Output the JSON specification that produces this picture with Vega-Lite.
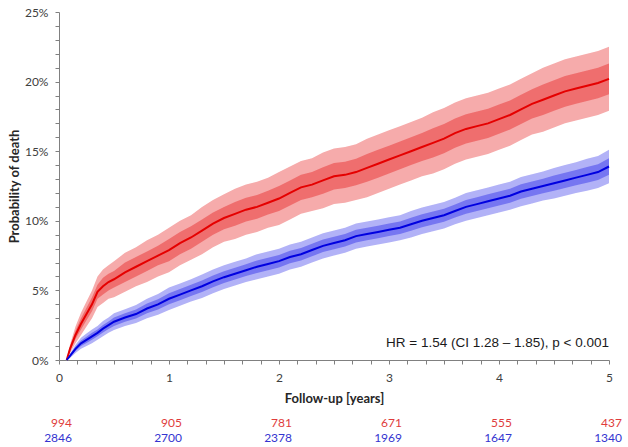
{
  "$schema": "https://vega.github.io/schema/vega-lite/v6.json",
  "padding": {"left": 8, "top": 6, "right": 5, "bottom": 2},
  "background": "white",
  "spacing": 10,
  "config": {"view": {"stroke": null}, "font": "Lato"},
  "datasets": {
    "km": [
      {"g":"r","t":0.07,"p":0,"lo":0,"hi":0,"lo2":0,"hi2":0},
      {"g":"r","t":0.1,"p":0.8,"lo":0.5,"hi":1.1,"lo2":0.65,"hi2":0.95},
      {"g":"r","t":0.15,"p":1.8,"lo":1.2,"hi":2.4,"lo2":1.5,"hi2":2.1},
      {"g":"r","t":0.2,"p":2.6,"lo":1.8,"hi":3.4,"lo2":2.2,"hi2":3.0},
      {"g":"r","t":0.25,"p":3.3,"lo":2.4,"hi":4.2,"lo2":2.85,"hi2":3.75},
      {"g":"r","t":0.3,"p":4.0,"lo":3.0,"hi":5.0,"lo2":3.5,"hi2":4.5},
      {"g":"r","t":0.35,"p":4.9,"lo":3.8,"hi":6.0,"lo2":4.4,"hi2":5.4},
      {"g":"r","t":0.4,"p":5.3,"lo":4.1,"hi":6.5,"lo2":4.7,"hi2":5.9},
      {"g":"r","t":0.45,"p":5.6,"lo":4.4,"hi":6.8,"lo2":5.0,"hi2":6.2},
      {"g":"r","t":0.5,"p":5.8,"lo":4.5,"hi":7.1,"lo2":5.2,"hi2":6.4},
      {"g":"r","t":0.6,"p":6.3,"lo":4.9,"hi":7.7,"lo2":5.6,"hi2":7.0},
      {"g":"r","t":0.7,"p":6.7,"lo":5.3,"hi":8.1,"lo2":6.0,"hi2":7.4},
      {"g":"r","t":0.8,"p":7.1,"lo":5.6,"hi":8.6,"lo2":6.4,"hi2":7.8},
      {"g":"r","t":0.9,"p":7.5,"lo":6.0,"hi":9.0,"lo2":6.8,"hi2":8.2},
      {"g":"r","t":1.0,"p":7.9,"lo":6.3,"hi":9.5,"lo2":7.1,"hi2":8.7},
      {"g":"r","t":1.1,"p":8.4,"lo":6.8,"hi":10.0,"lo2":7.6,"hi2":9.2},
      {"g":"r","t":1.2,"p":8.8,"lo":7.2,"hi":10.4,"lo2":8.0,"hi2":9.6},
      {"g":"r","t":1.3,"p":9.3,"lo":7.6,"hi":11.0,"lo2":8.5,"hi2":10.1},
      {"g":"r","t":1.4,"p":9.8,"lo":8.1,"hi":11.5,"lo2":9.0,"hi2":10.6},
      {"g":"r","t":1.5,"p":10.2,"lo":8.5,"hi":11.9,"lo2":9.4,"hi2":11.0},
      {"g":"r","t":1.6,"p":10.5,"lo":8.7,"hi":12.3,"lo2":9.65,"hi2":11.35},
      {"g":"r","t":1.7,"p":10.8,"lo":9.0,"hi":12.6,"lo2":9.95,"hi2":11.65},
      {"g":"r","t":1.8,"p":11.0,"lo":9.2,"hi":12.8,"lo2":10.15,"hi2":11.85},
      {"g":"r","t":1.9,"p":11.3,"lo":9.5,"hi":13.1,"lo2":10.45,"hi2":12.15},
      {"g":"r","t":2.0,"p":11.6,"lo":9.7,"hi":13.5,"lo2":10.7,"hi2":12.5},
      {"g":"r","t":2.1,"p":12.0,"lo":10.1,"hi":13.9,"lo2":11.1,"hi2":12.9},
      {"g":"r","t":2.2,"p":12.4,"lo":10.5,"hi":14.3,"lo2":11.5,"hi2":13.3},
      {"g":"r","t":2.3,"p":12.6,"lo":10.7,"hi":14.5,"lo2":11.7,"hi2":13.5},
      {"g":"r","t":2.4,"p":12.9,"lo":10.9,"hi":14.9,"lo2":11.95,"hi2":13.85},
      {"g":"r","t":2.5,"p":13.2,"lo":11.2,"hi":15.2,"lo2":12.25,"hi2":14.15},
      {"g":"r","t":2.6,"p":13.3,"lo":11.3,"hi":15.3,"lo2":12.35,"hi2":14.25},
      {"g":"r","t":2.7,"p":13.5,"lo":11.5,"hi":15.5,"lo2":12.55,"hi2":14.45},
      {"g":"r","t":2.8,"p":13.8,"lo":11.7,"hi":15.9,"lo2":12.8,"hi2":14.8},
      {"g":"r","t":2.9,"p":14.1,"lo":12.0,"hi":16.2,"lo2":13.1,"hi2":15.1},
      {"g":"r","t":3.0,"p":14.4,"lo":12.3,"hi":16.5,"lo2":13.4,"hi2":15.4},
      {"g":"r","t":3.1,"p":14.7,"lo":12.6,"hi":16.8,"lo2":13.7,"hi2":15.7},
      {"g":"r","t":3.2,"p":15.0,"lo":12.9,"hi":17.1,"lo2":14.0,"hi2":16.0},
      {"g":"r","t":3.3,"p":15.3,"lo":13.2,"hi":17.4,"lo2":14.3,"hi2":16.3},
      {"g":"r","t":3.4,"p":15.6,"lo":13.4,"hi":17.8,"lo2":14.55,"hi2":16.65},
      {"g":"r","t":3.5,"p":15.9,"lo":13.7,"hi":18.1,"lo2":14.85,"hi2":16.95},
      {"g":"r","t":3.6,"p":16.3,"lo":14.1,"hi":18.5,"lo2":15.25,"hi2":17.35},
      {"g":"r","t":3.7,"p":16.6,"lo":14.4,"hi":18.8,"lo2":15.55,"hi2":17.65},
      {"g":"r","t":3.8,"p":16.8,"lo":14.6,"hi":19.0,"lo2":15.75,"hi2":17.85},
      {"g":"r","t":3.9,"p":17.0,"lo":14.8,"hi":19.2,"lo2":15.95,"hi2":18.05},
      {"g":"r","t":4.0,"p":17.3,"lo":15.1,"hi":19.5,"lo2":16.25,"hi2":18.35},
      {"g":"r","t":4.1,"p":17.6,"lo":15.4,"hi":19.8,"lo2":16.55,"hi2":18.65},
      {"g":"r","t":4.2,"p":18.0,"lo":15.8,"hi":20.2,"lo2":16.95,"hi2":19.05},
      {"g":"r","t":4.3,"p":18.4,"lo":16.2,"hi":20.6,"lo2":17.35,"hi2":19.45},
      {"g":"r","t":4.4,"p":18.7,"lo":16.4,"hi":21.0,"lo2":17.6,"hi2":19.8},
      {"g":"r","t":4.5,"p":19.0,"lo":16.7,"hi":21.3,"lo2":17.9,"hi2":20.1},
      {"g":"r","t":4.6,"p":19.3,"lo":17.0,"hi":21.6,"lo2":18.2,"hi2":20.4},
      {"g":"r","t":4.7,"p":19.5,"lo":17.2,"hi":21.8,"lo2":18.4,"hi2":20.6},
      {"g":"r","t":4.8,"p":19.7,"lo":17.4,"hi":22.0,"lo2":18.6,"hi2":20.8},
      {"g":"r","t":4.9,"p":19.9,"lo":17.6,"hi":22.2,"lo2":18.8,"hi2":21.0},
      {"g":"r","t":5.0,"p":20.2,"lo":17.9,"hi":22.5,"lo2":19.1,"hi2":21.3},
      {"g":"b","t":0.07,"p":0,"lo":0,"hi":0,"lo2":0,"hi2":0},
      {"g":"b","t":0.1,"p":0.3,"lo":0.15,"hi":0.45,"lo2":0.22,"hi2":0.38},
      {"g":"b","t":0.15,"p":0.8,"lo":0.5,"hi":1.1,"lo2":0.65,"hi2":0.95},
      {"g":"b","t":0.2,"p":1.2,"lo":0.8,"hi":1.6,"lo2":1.0,"hi2":1.4},
      {"g":"b","t":0.25,"p":1.45,"lo":1.0,"hi":1.9,"lo2":1.23,"hi2":1.67},
      {"g":"b","t":0.3,"p":1.7,"lo":1.2,"hi":2.2,"lo2":1.45,"hi2":1.95},
      {"g":"b","t":0.35,"p":1.95,"lo":1.45,"hi":2.45,"lo2":1.7,"hi2":2.2},
      {"g":"b","t":0.4,"p":2.25,"lo":1.7,"hi":2.8,"lo2":1.98,"hi2":2.52},
      {"g":"b","t":0.45,"p":2.5,"lo":1.95,"hi":3.05,"lo2":2.23,"hi2":2.77},
      {"g":"b","t":0.5,"p":2.75,"lo":2.15,"hi":3.35,"lo2":2.45,"hi2":3.05},
      {"g":"b","t":0.6,"p":3.05,"lo":2.45,"hi":3.65,"lo2":2.75,"hi2":3.35},
      {"g":"b","t":0.7,"p":3.3,"lo":2.65,"hi":3.95,"lo2":2.98,"hi2":3.62},
      {"g":"b","t":0.8,"p":3.7,"lo":3.0,"hi":4.4,"lo2":3.35,"hi2":4.05},
      {"g":"b","t":0.9,"p":4.0,"lo":3.25,"hi":4.75,"lo2":3.63,"hi2":4.37},
      {"g":"b","t":1.0,"p":4.4,"lo":3.6,"hi":5.2,"lo2":4.0,"hi2":4.8},
      {"g":"b","t":1.1,"p":4.7,"lo":3.9,"hi":5.5,"lo2":4.3,"hi2":5.1},
      {"g":"b","t":1.2,"p":5.0,"lo":4.2,"hi":5.8,"lo2":4.6,"hi2":5.4},
      {"g":"b","t":1.3,"p":5.3,"lo":4.45,"hi":6.15,"lo2":4.88,"hi2":5.72},
      {"g":"b","t":1.4,"p":5.65,"lo":4.8,"hi":6.5,"lo2":5.23,"hi2":6.07},
      {"g":"b","t":1.5,"p":5.95,"lo":5.1,"hi":6.8,"lo2":5.53,"hi2":6.37},
      {"g":"b","t":1.6,"p":6.2,"lo":5.35,"hi":7.05,"lo2":5.78,"hi2":6.62},
      {"g":"b","t":1.7,"p":6.45,"lo":5.6,"hi":7.3,"lo2":6.03,"hi2":6.87},
      {"g":"b","t":1.8,"p":6.7,"lo":5.8,"hi":7.6,"lo2":6.25,"hi2":7.15},
      {"g":"b","t":1.9,"p":6.9,"lo":6.0,"hi":7.8,"lo2":6.45,"hi2":7.35},
      {"g":"b","t":2.0,"p":7.1,"lo":6.2,"hi":8.0,"lo2":6.65,"hi2":7.55},
      {"g":"b","t":2.1,"p":7.4,"lo":6.5,"hi":8.3,"lo2":6.95,"hi2":7.85},
      {"g":"b","t":2.2,"p":7.6,"lo":6.7,"hi":8.5,"lo2":7.15,"hi2":8.05},
      {"g":"b","t":2.3,"p":7.9,"lo":7.0,"hi":8.8,"lo2":7.45,"hi2":8.35},
      {"g":"b","t":2.4,"p":8.2,"lo":7.3,"hi":9.1,"lo2":7.75,"hi2":8.65},
      {"g":"b","t":2.5,"p":8.4,"lo":7.5,"hi":9.3,"lo2":7.95,"hi2":8.85},
      {"g":"b","t":2.6,"p":8.6,"lo":7.7,"hi":9.5,"lo2":8.15,"hi2":9.05},
      {"g":"b","t":2.7,"p":8.9,"lo":8.0,"hi":9.8,"lo2":8.45,"hi2":9.35},
      {"g":"b","t":2.8,"p":9.05,"lo":8.15,"hi":9.95,"lo2":8.6,"hi2":9.5},
      {"g":"b","t":2.9,"p":9.2,"lo":8.3,"hi":10.1,"lo2":8.75,"hi2":9.65},
      {"g":"b","t":3.0,"p":9.35,"lo":8.45,"hi":10.25,"lo2":8.9,"hi2":9.8},
      {"g":"b","t":3.1,"p":9.5,"lo":8.6,"hi":10.4,"lo2":9.05,"hi2":9.95},
      {"g":"b","t":3.2,"p":9.75,"lo":8.8,"hi":10.7,"lo2":9.28,"hi2":10.22},
      {"g":"b","t":3.3,"p":10.0,"lo":9.05,"hi":10.95,"lo2":9.53,"hi2":10.47},
      {"g":"b","t":3.4,"p":10.2,"lo":9.25,"hi":11.15,"lo2":9.73,"hi2":10.67},
      {"g":"b","t":3.5,"p":10.4,"lo":9.45,"hi":11.35,"lo2":9.93,"hi2":10.87},
      {"g":"b","t":3.6,"p":10.7,"lo":9.75,"hi":11.65,"lo2":10.23,"hi2":11.17},
      {"g":"b","t":3.7,"p":11.0,"lo":10.0,"hi":12.0,"lo2":10.5,"hi2":11.5},
      {"g":"b","t":3.8,"p":11.2,"lo":10.2,"hi":12.2,"lo2":10.7,"hi2":11.7},
      {"g":"b","t":3.9,"p":11.4,"lo":10.4,"hi":12.4,"lo2":10.9,"hi2":11.9},
      {"g":"b","t":4.0,"p":11.6,"lo":10.6,"hi":12.6,"lo2":11.1,"hi2":12.1},
      {"g":"b","t":4.1,"p":11.8,"lo":10.8,"hi":12.8,"lo2":11.3,"hi2":12.3},
      {"g":"b","t":4.2,"p":12.1,"lo":11.05,"hi":13.15,"lo2":11.58,"hi2":12.62},
      {"g":"b","t":4.3,"p":12.3,"lo":11.25,"hi":13.35,"lo2":11.78,"hi2":12.82},
      {"g":"b","t":4.4,"p":12.5,"lo":11.45,"hi":13.55,"lo2":11.98,"hi2":13.02},
      {"g":"b","t":4.5,"p":12.7,"lo":11.6,"hi":13.8,"lo2":12.15,"hi2":13.25},
      {"g":"b","t":4.6,"p":12.9,"lo":11.8,"hi":14.0,"lo2":12.35,"hi2":13.45},
      {"g":"b","t":4.7,"p":13.1,"lo":12.0,"hi":14.2,"lo2":12.55,"hi2":13.65},
      {"g":"b","t":4.8,"p":13.3,"lo":12.15,"hi":14.45,"lo2":12.73,"hi2":13.87},
      {"g":"b","t":4.9,"p":13.5,"lo":12.35,"hi":14.65,"lo2":12.93,"hi2":14.07},
      {"g":"b","t":5.0,"p":13.9,"lo":12.7,"hi":15.1,"lo2":13.3,"hi2":14.5}
    ],
    "note": [
      {"t": 5, "p": 1.25, "label": "HR = 1.54 (CI 1.28 – 1.85), p < 0.001"}
    ],
    "risk": [
      {"g":"r","t":0,"n":"994"},{"g":"r","t":1,"n":"905"},{"g":"r","t":2,"n":"781"},
      {"g":"r","t":3,"n":"671"},{"g":"r","t":4,"n":"555"},{"g":"r","t":5,"n":"437"},
      {"g":"b","t":0,"n":"2846"},{"g":"b","t":1,"n":"2700"},{"g":"b","t":2,"n":"2378"},
      {"g":"b","t":3,"n":"1969"},{"g":"b","t":4,"n":"1647"},{"g":"b","t":5,"n":"1340"}
    ]
  },
  "vconcat": [
    {
      "width": 550,
      "height": 348,
      "data": {"name": "km"},
      "layer": [
        {
          "transform": [{"filter": "datum.g == 'r'"}],
          "mark": {"type": "area", "interpolate": "linear", "color": "#f6abab", "opacity": 1},
          "encoding": {
            "x": {
              "field": "t", "type": "quantitative",
              "scale": {"domain": [0, 5], "nice": false, "zero": false},
              "axis": {
                "title": "Follow-up [years]",
                "values": [0,0.166667,0.333333,0.5,0.666667,0.833333,1,1.166667,1.333333,1.5,1.666667,1.833333,2,2.166667,2.333333,2.5,2.666667,2.833333,3,3.166667,3.333333,3.5,3.666667,3.833333,4,4.166667,4.333333,4.5,4.666667,4.833333,5],
                "tickCount": 100,
                "labelExpr": "abs(datum.value - round(datum.value)) < 0.001 ? '' + round(datum.value) : ''",
                "labelOverlap": false,
                "labelFlush": false,
                "labelPadding": 8,
                "titlePadding": 9,
                "grid": false,
                "domain": true,
                "ticks": true,
                "domainColor": "#808080",
                "domainWidth": 1,
                "tickColor": "#808080",
                "tickWidth": 1,
                "tickSize": 4,
                "labelFont": "Lato",
                "labelFontSize": 12,
                "labelColor": "#404040",
                "titleFont": "Lato",
                "titleFontSize": 13,
                "titleFontWeight": "bold",
                "titleColor": "#262626"
              }
            },
            "y": {
              "field": "lo", "type": "quantitative",
              "scale": {"domain": [0, 25], "nice": false},
              "axis": {
                "title": "Probability of death",
                "values": [0,1,2,3,4,5,6,7,8,9,10,11,12,13,14,15,16,17,18,19,20,21,22,23,24,25],
                "tickCount": 100,
                "labelExpr": "datum.value % 5 == 0 ? datum.value + '%' : ''",
                "labelOverlap": false,
                "labelPadding": 7,
                "titlePadding": 3,
                "grid": false,
                "domain": true,
                "ticks": true,
                "domainColor": "#808080",
                "domainWidth": 1,
                "tickColor": "#808080",
                "tickWidth": 1,
                "tickSize": 4,
                "labelFont": "Lato",
                "labelFontSize": 12,
                "labelColor": "#404040",
                "titleFont": "Lato",
                "titleFontSize": 13,
                "titleFontWeight": "bold",
                "titleColor": "#262626"
              }
            },
            "y2": {"field": "hi"}
          }
        },
        {
          "transform": [{"filter": "datum.g == 'r'"}],
          "mark": {"type": "area", "interpolate": "linear", "color": "#ef6e6e", "opacity": 1},
          "encoding": {"x": {"field": "t", "type": "quantitative"}, "y": {"field": "lo2", "type": "quantitative"}, "y2": {"field": "hi2"}}
        },
        {
          "transform": [{"filter": "datum.g == 'r'"}],
          "mark": {"type": "line", "interpolate": "linear", "color": "#e50000", "strokeWidth": 2},
          "encoding": {"x": {"field": "t", "type": "quantitative"}, "y": {"field": "p", "type": "quantitative"}}
        },
        {
          "transform": [{"filter": "datum.g == 'b'"}],
          "mark": {"type": "area", "interpolate": "linear", "color": "#b2b2f7", "opacity": 1},
          "encoding": {"x": {"field": "t", "type": "quantitative"}, "y": {"field": "lo", "type": "quantitative"}, "y2": {"field": "hi"}}
        },
        {
          "transform": [{"filter": "datum.g == 'b'"}],
          "mark": {"type": "area", "interpolate": "linear", "color": "#7676f1", "opacity": 1},
          "encoding": {"x": {"field": "t", "type": "quantitative"}, "y": {"field": "lo2", "type": "quantitative"}, "y2": {"field": "hi2"}}
        },
        {
          "transform": [{"filter": "datum.g == 'b'"}],
          "mark": {"type": "line", "interpolate": "linear", "color": "#0000e0", "strokeWidth": 2},
          "encoding": {"x": {"field": "t", "type": "quantitative"}, "y": {"field": "p", "type": "quantitative"}}
        },
        {
          "data": {"name": "note"},
          "mark": {"type": "text", "align": "right", "baseline": "middle", "font": "Liberation Sans", "fontSize": 13.5, "color": "#1a1a1a"},
          "encoding": {
            "x": {"field": "t", "type": "quantitative"},
            "y": {"field": "p", "type": "quantitative"},
            "text": {"field": "label"}
          }
        }
      ]
    },
    {
      "width": 550,
      "height": 30,
      "data": {"name": "risk"},
      "encoding": {
        "x": {"field": "t", "type": "quantitative", "scale": {"domain": [0, 5], "nice": false}, "axis": null},
        "y": {"field": "g", "type": "nominal", "sort": ["r", "b"], "axis": null},
        "text": {"field": "n"}
      },
      "layer": [
        {
          "transform": [{"filter": "datum.g == 'r'"}],
          "mark": {"type": "text", "align": "right", "baseline": "middle", "dx": 13, "font": "Lato", "fontSize": 12, "color": "#e03c3c"}
        },
        {
          "transform": [{"filter": "datum.g == 'b'"}],
          "mark": {"type": "text", "align": "right", "baseline": "middle", "dx": 13, "font": "Lato", "fontSize": 12, "color": "#3434d0"}
        }
      ]
    }
  ]
}
